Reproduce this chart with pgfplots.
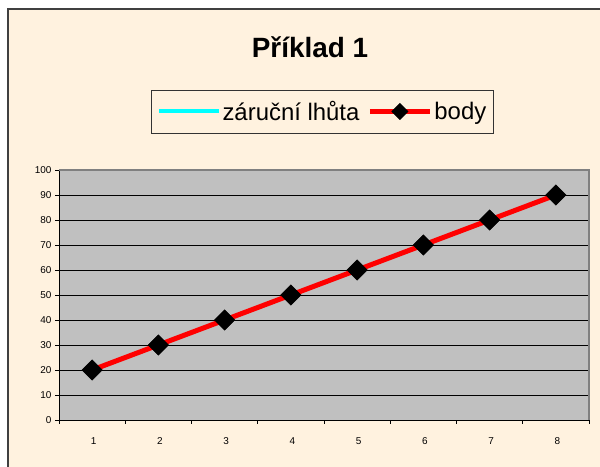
\documentclass[border=0pt]{standalone}
\usepackage{pgfplots}
\pgfplotsset{compat=1.18}
\usepackage{fontspec}
\setmainfont{Liberation Sans}
\definecolor{cream}{RGB}{255,242,223}
\definecolor{plotgray}{RGB}{192,192,192}
\definecolor{bordergray}{RGB}{128,128,128}
\definecolor{aqua}{RGB}{0,255,255}
\definecolor{pureRed}{RGB}{255,0,0}
\begin{document}
\begin{tikzpicture}[x=1bp,y=1bp]
\path[use as bounding box] (0,0) rectangle (600,467);
\begin{scope}
\clip (0,0) rectangle (600,467);
\fill[white] (0,0) rectangle (600,467);
\draw[fill=cream, draw=black!75, line width=1.5bp] (8,-20) rectangle (620,458);
\end{scope}
\node[font=\bfseries\fontsize{28}{32}\selectfont, anchor=base, inner sep=0pt] at (310,409) {Příklad 1};
\begin{axis}[
  at={(59bp,47bp)}, anchor=south west,
  scale only axis, width=530bp, height=250bp,
  xmin=0.5, xmax=8.5, ymin=0, ymax=100,
  ytick={0,10,...,100},
  xtick={0.5,1.5,...,8.5},
  x tick label as interval,
  xticklabels={1,2,3,4,5,6,7,8},
  axis background/.style={fill=plotgray},
  axis x line*=bottom, axis y line*=left,
  axis line style={black, line width=0.8bp},
  tick align=outside, major tick length=4bp,
  tick style={black, line width=0.8bp},
  ymajorgrids, major grid style={black, line width=0.8bp},
  tick label style={font=\fontsize{10}{11}\selectfont},
  /pgf/number format/assume math mode=true,
  xticklabel style={yshift=-10bp, xshift=1.5bp},
  clip=false,
  legend columns=2,
  legend style={at={(axis description cs:0.497,1.234)}, anchor=center,
    fill=cream, draw=black!80, line width=0.6bp,
    inner xsep=5bp, inner ysep=9bp,
    font=\fontsize{24}{28}\selectfont,
    /tikz/every even column/.append style={column sep=6bp}},
  legend image code/.code={\draw[mark repeat=2,mark phase=2,#1,every mark/.append style={scale=0.8}] plot coordinates {(0bp,0bp)(30bp,0bp)(60bp,0bp)};},
  after end axis/.code={\draw[bordergray, line width=2bp] (rel axis cs:0,1) -- (rel axis cs:1,1) -- (rel axis cs:1,0);},
]
\addlegendimage{aqua, line width=4bp}
\addlegendentry{záruční lhůta}
\addplot[pureRed, line width=5bp, mark=square*, mark size=7.2bp,
  mark options={fill=black, draw=black, rotate=45, line width=0.5bp}]
  coordinates {(1,20) (2,30) (3,40) (4,50) (5,60) (6,70) (7,80) (8,90)};
\addlegendentry{body}
\end{axis}
\end{tikzpicture}
\end{document}
